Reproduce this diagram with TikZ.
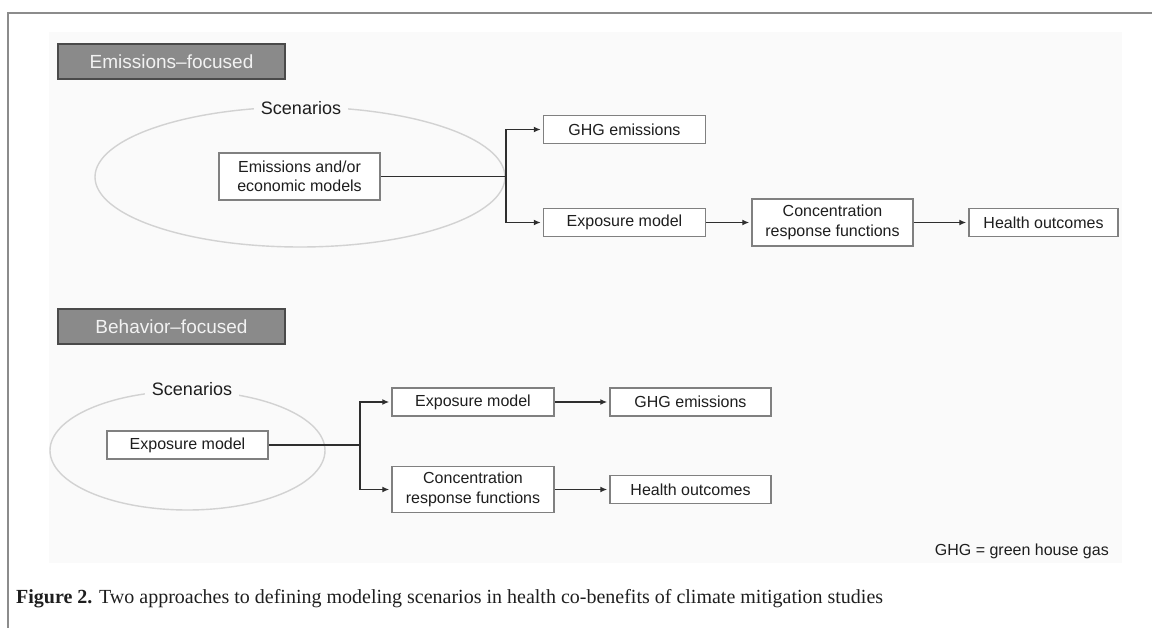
\documentclass[tikz,border=0pt]{standalone}
\usepackage{fontspec}
\setmainfont{Liberation Serif}
\setsansfont{Liberation Sans}
\usetikzlibrary{arrows.meta,shapes.geometric}
\definecolor{panelc}{HTML}{FAFAFA}
\definecolor{framec}{HTML}{8C8C8C}
\definecolor{boxline}{HTML}{808080}
\definecolor{headfill}{HTML}{8A8A8A}
\definecolor{headline}{HTML}{4A4A4A}
\definecolor{headtext}{HTML}{F2F2F2}
\definecolor{textc}{HTML}{1E1E1E}
\definecolor{linec}{HTML}{2E2E2E}
\definecolor{ovalc}{HTML}{D2D2D2}
\begin{document}
\begin{tikzpicture}[x=1pt,y=-1pt,
  box/.style={draw=boxline,line width=1.5pt,fill=white,font=\sffamily\fontsize{16}{19.3}\selectfont,text=textc,align=center,inner sep=0pt},
  head/.style={draw=headline,line width=1.5pt,fill=headfill,text=headtext,font=\sffamily\fontsize{19}{21}\selectfont,inner sep=0pt},
  conn/.style={draw=linec,line width=1.9pt,-{Latex[length=7pt,width=6pt]},shorten >=2pt},
  plainline/.style={draw=linec,line width=1.9pt},
  oval/.style={ellipse,draw=ovalc,line width=1.4pt,inner sep=0pt},
  scen/.style={fill=panelc,font=\sffamily\fontsize{18}{20}\selectfont,text=textc,inner xsep=7pt,inner ysep=1pt}
  ]
\path[use as bounding box] (0,0) rectangle (1152,628);
\fill[panelc] (49,32) rectangle (1122,563);
\draw[framec,line width=2pt] (8,628) -- (8,13) -- (1152,13);

% ---------- Emissions-focused ----------
\node[head,minimum width=227pt,minimum height=35pt] (head1) at (171.5,61.5) {Emissions--focused};
\node[oval,minimum width=410pt,minimum height=140pt] (sc1) at (300,177) {};
\node[scen] (lab1) at (301,108) {Scenarios};
\node[box,minimum width=161pt,minimum height=47pt] (emod) at (299.5,176.5) {Emissions and/or\\economic models};
\node[box,minimum width=162pt,minimum height=28pt] (ghg1) at (624.5,129.5) {GHG emissions};
\node[box,minimum width=162pt,minimum height=28pt] (exp1) at (624.5,222.5) {Exposure model};
\node[box,minimum width=161pt,minimum height=47pt] (conc1) at (832.5,222.5) {Concentration\\response functions};
\node[box,minimum width=149pt,minimum height=28pt] (hlth1) at (1043.5,222.5) {Health outcomes};
\coordinate (j1) at (506,176.5);
\draw[plainline] (emod.east) -- (j1);
\draw[conn] (j1) |- (ghg1.west);
\draw[conn] (j1) |- (exp1.west);
\draw[conn] (exp1.east) -- (conc1.west);
\draw[conn] (conc1.east) -- (hlth1.west);

% ---------- Behavior-focused ----------
\node[head,minimum width=227pt,minimum height=35pt] (head2) at (171.5,326.5) {Behavior--focused};
\node[oval,minimum width=275pt,minimum height=119pt] (sc2) at (187.5,450.5) {};
\node[scen] (lab2) at (192,389) {Scenarios};
\node[box,minimum width=161pt,minimum height=28pt] (emod2) at (187.5,445) {Exposure model};
\node[box,minimum width=162pt,minimum height=28pt] (exp2) at (473,402) {Exposure model};
\node[box,minimum width=161pt,minimum height=28pt] (ghg2) at (690.5,402) {GHG emissions};
\node[box,minimum width=162pt,minimum height=46pt] (conc2) at (473,489.5) {Concentration\\response functions};
\node[box,minimum width=161pt,minimum height=28pt] (hlth2) at (690.5,489.5) {Health outcomes};
\coordinate (j2) at (360,445);
\draw[plainline] (emod2.east) -- (j2);
\draw[conn] (j2) |- (exp2.west);
\draw[conn] (j2) |- (conc2.west);
\draw[conn] (exp2.east) -- (ghg2.west);
\draw[conn] (conc2.east) -- (hlth2.west);

\node[anchor=base east,font=\sffamily\fontsize{16}{18}\selectfont,text=textc,inner sep=0pt] (note) at (1109,555) {GHG = green house gas};

\node[anchor=base west,font=\fontsize{20}{23}\selectfont,text=textc,inner sep=0pt] (cap) at (16,603) {\textbf{Figure 2.} Two approaches to defining modeling scenarios in health co-benefits of climate mitigation studies};
\end{tikzpicture}
\end{document}
